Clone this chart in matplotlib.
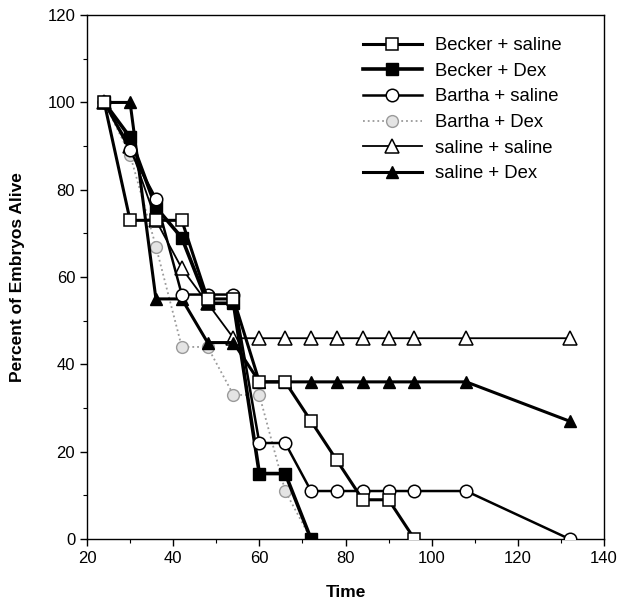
import matplotlib.pyplot as plt
from matplotlib.ticker import MultipleLocator

plt.rcParams['font.family'] = ['Liberation Sans', 'DejaVu Sans']

# hours after treatment
t_becker_sal = [24, 30, 36, 42, 48, 54, 60, 66, 72, 78, 84, 90, 96]
becker_sal = [100, 73, 73, 73, 55, 55, 36, 36, 27, 18, 9, 9, 0]

t_becker_dex = [24, 30, 36, 42, 48, 54, 60, 66, 72]
becker_dex = [100, 92, 76, 69, 54, 54, 15, 15, 0]

t_bartha_sal = [24, 30, 36, 42, 48, 54, 60, 66, 72, 78, 84, 90, 96, 108, 132]
bartha_sal = [100, 89, 78, 56, 56, 56, 22, 22, 11, 11, 11, 11, 11, 11, 0]

t_bartha_dex = [24, 30, 36, 42, 48, 54, 60, 66, 72]
bartha_dex = [100, 88, 67, 44, 44, 33, 33, 11, 0]

t_sal_sal = [24, 30, 36, 42, 48, 54, 60, 66, 72, 78, 84, 90, 96, 108, 132]
sal_sal = [100, 90, 73, 62, 54, 46, 46, 46, 46, 46, 46, 46, 46, 46, 46]

t_sal_dex = [24, 30, 36, 42, 48, 54, 60, 66, 72, 78, 84, 90, 96, 108, 132]
sal_dex = [100, 100, 55, 55, 45, 45, 36, 36, 36, 36, 36, 36, 36, 36, 27]

fig = plt.figure(figsize=(6.17, 6.05), dpi=100)
ax = fig.add_axes([0.141, 0.109, 0.838, 0.866])

ax.plot(t_sal_sal, sal_sal, '-', color='black', lw=1.3, marker='^', ms=10,
        mfc='white', mec='black', mew=1.1, label='saline + saline', zorder=2)
ax.plot(t_sal_dex, sal_dex, '-', color='black', lw=2.2, marker='^', ms=8.5,
        mfc='black', mec='black', label='saline + Dex', zorder=3)
ax.plot(t_bartha_dex, bartha_dex, ':', color='#9a9a9a', lw=1.3, marker='o', ms=8.5,
        mfc='#e4e4e4', mec='#9a9a9a', mew=1.0, label='Bartha + Dex', zorder=2)
ax.plot(t_bartha_sal, bartha_sal, '-', color='black', lw=1.8, marker='o', ms=9,
        mfc='white', mec='black', mew=1.1, label='Bartha + saline', zorder=4)
ax.plot(t_becker_dex, becker_dex, '-', color='black', lw=2.6, marker='s', ms=8.5,
        mfc='black', mec='black', label='Becker + Dex', zorder=3)
ax.plot(t_becker_sal, becker_sal, '-', color='black', lw=2.2, marker='s', ms=9,
        mfc='white', mec='black', mew=1.1, label='Becker + saline', zorder=5)

handles, labels = ax.get_legend_handles_labels()
order = ['Becker + saline', 'Becker + Dex', 'Bartha + saline',
         'Bartha + Dex', 'saline + saline', 'saline + Dex']
h = [handles[labels.index(o)] for o in order]
ax.legend(h, order, loc='upper right', bbox_to_anchor=(0.95, 0.99), frameon=False,
          fontsize=13.3, handlelength=3.2, labelspacing=0.47, handletextpad=0.7)

ax.set_xlim(20, 140)
ax.set_ylim(0, 120)
ax.xaxis.set_major_locator(MultipleLocator(20))
ax.xaxis.set_minor_locator(MultipleLocator(10))
ax.yaxis.set_major_locator(MultipleLocator(20))
ax.yaxis.set_minor_locator(MultipleLocator(10))
ax.tick_params(which='major', direction='out', length=5, width=1, labelsize=12)
ax.tick_params(which='minor', direction='out', length=3, width=0.8)

for s in ax.spines.values():
    s.set_linewidth(1.0)

ax.set_xlabel('Time', fontsize=12.5, fontweight='bold', labelpad=14)
ax.set_ylabel('Percent of Embryos Alive', fontsize=12.5, fontweight='bold', labelpad=16)

fig.savefig('out.png', dpi=100)
